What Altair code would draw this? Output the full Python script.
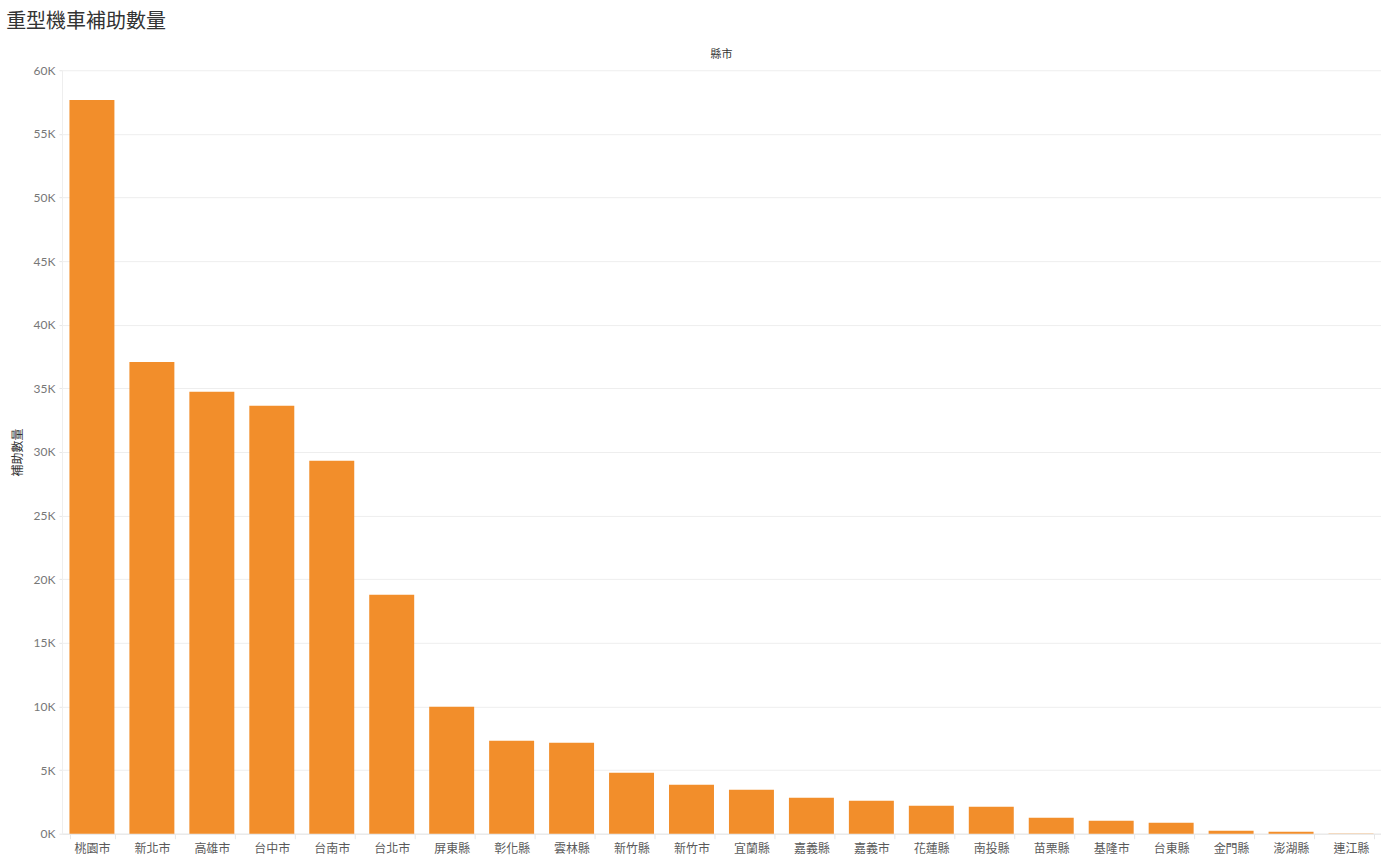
import altair as alt
import pandas as pd

# 各縣市重型機車補助數量
counties = [
    "桃園市", "新北市", "高雄市", "台中市", "台南市", "台北市", "屏東縣",
    "彰化縣", "雲林縣", "新竹縣", "新竹市", "宜蘭縣", "嘉義縣", "嘉義市",
    "花蓮縣", "南投縣", "苗栗縣", "基隆市", "台東縣", "金門縣", "澎湖縣", "連江縣",
]
counts = [
    57670, 37080, 34730, 33630, 29310, 18780, 9980,
    7310, 7150, 4790, 3850, 3460, 2830, 2590,
    2200, 2120, 1260, 1020, 860, 240, 160, 8,
]
y_ticks = list(range(0, 60001, 5000))

df = pd.DataFrame({"縣市": counties, "補助數量": counts})

FONT = "Lato, 'Noto Sans CJK TC', sans-serif"
ORANGE = "#F28E2B"

bars = alt.Chart(df).mark_bar(color=ORANGE).encode(
    x=alt.X(
        "縣市:N",
        sort=counties,
        scale=alt.Scale(paddingInner=0.25, paddingOuter=0.125),
        axis=alt.Axis(
            title=None,
            labelAngle=0,
            labelFontSize=12,
            labelColor="#5a5a5a",
            labelFont=FONT,
            labelPadding=5,
            tickBand="extent",
            tickSize=5,
            tickColor="#e6e6e6",
            domainColor="#e6e6e6",
            grid=False,
        ),
    ),
    y=alt.Y(
        "補助數量:Q",
        scale=alt.Scale(domain=[0, 60000], nice=False),
        axis=alt.Axis(
            title="補助數量",
            titleFontSize=12,
            titleFontWeight="normal",
            titleColor="#333333",
            titleFont=FONT,
            titlePadding=9,
            values=y_ticks,
            labelExpr="(datum.value / 1000) + 'K'",
            labelFontSize=12,
            labelColor="#777777",
            labelFont=FONT,
            labelPadding=4,
            tickSize=3,
            tickColor="#e6e6e6",
            domainColor="#eeeeee",
            gridColor="#eeeeee",
        ),
    ),
)

header = alt.Chart(pd.DataFrame({"h": ["縣市"]})).mark_text(
    fontSize=11, color="#333333", font=FONT
).encode(
    text="h:N",
    x=alt.value(660),
    y=alt.value(-15),
)

chart = (
    alt.layer(bars, header)
    .properties(
        width=1320,
        height=764,
        title=alt.TitleParams(
            "重型機車補助數量",
            anchor="start",
            fontSize=20,
            fontWeight="normal",
            color="#333333",
            font=FONT,
            dx=-5,
            offset=17,
        ),
        padding={"left": 6, "top": 12, "right": 0, "bottom": 0},
    )
    .configure_view(stroke=None)
)

chart.save("out.html", embed_options={"renderer": "svg", "actions": False})
